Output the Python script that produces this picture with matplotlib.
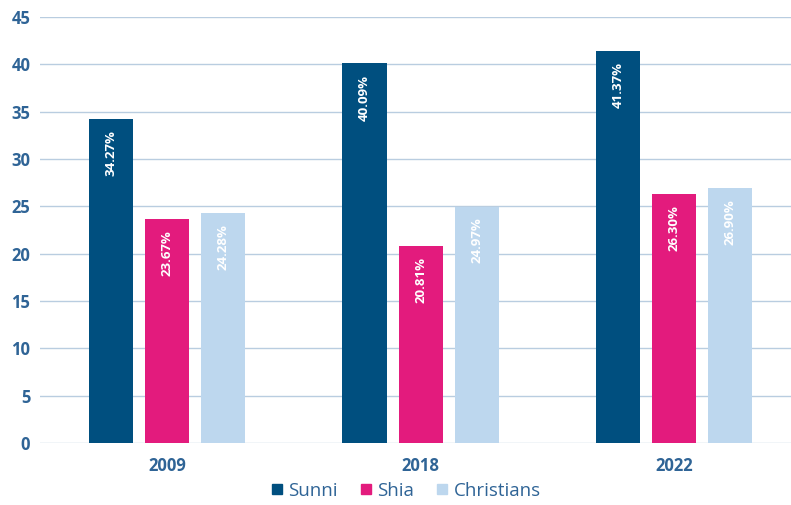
import matplotlib.pyplot as plt
from matplotlib.lines import Line2D
import numpy as np

years = ["2009", "2018", "2022"]
series = ["Sunni", "Shia", "Christians"]
sunni = [34.27, 40.09, 41.37]
shia = [23.67, 20.81, 26.30]
christians = [24.28, 24.97, 26.90]
colors = ["#004f7f", "#e31b7d", "#bdd7ee"]
text_col = "#2f6496"
grid_col = "#b9cde0"

plt.rcParams["font.family"] = ["Open Sans", "DejaVu Sans"]

fig = plt.figure(figsize=(7.91, 5.05), dpi=100)
ax = fig.add_axes([40 / 791, 62 / 505, 751 / 791, 426 / 505])

x = np.arange(len(years))
width = 0.1736
offset = 0.221
for i, (vals, col) in enumerate(zip([sunni, shia, christians], colors)):
    pos = x + (i - 1) * offset
    ax.bar(pos, vals, width=width, color=col, zorder=3, label=series[i])
    for p, v in zip(pos, vals):
        ax.annotate(f"{v:.2f}%", (p, v), xytext=(0, -8), textcoords="offset points",
                    rotation=90, ha="center", va="top", color="white",
                    fontsize=9.5, fontweight="bold", zorder=4)

ax.set_xlim(-0.5, 2.46)
ax.set_ylim(0, 45)
ax.set_yticks(range(0, 46, 5))
ax.yaxis.grid(True, color=grid_col, linewidth=1, zorder=0)
ax.set_xticks(x)
ax.set_xticklabels(years)
for s in ax.spines.values():
    s.set_visible(False)
ax.tick_params(axis="both", length=0, colors=text_col, labelsize=12)
ax.tick_params(axis="y", pad=7)
ax.tick_params(axis="x", pad=10)
for lbl in ax.get_xticklabels() + ax.get_yticklabels():
    lbl.set_fontweight("bold")

handles = [Line2D([], [], marker="s", linestyle="", markersize=7, color=c) for c in colors]
leg = fig.legend(handles, series, loc="center", bbox_to_anchor=(406 / 791, 1 - 491 / 505),
                 ncol=3, frameon=False, fontsize=13.5, handlelength=0.6, handletextpad=0.3,
                 columnspacing=1.2)
for t in leg.get_texts():
    t.set_color(text_col)

fig.savefig("out.png", dpi=100)
